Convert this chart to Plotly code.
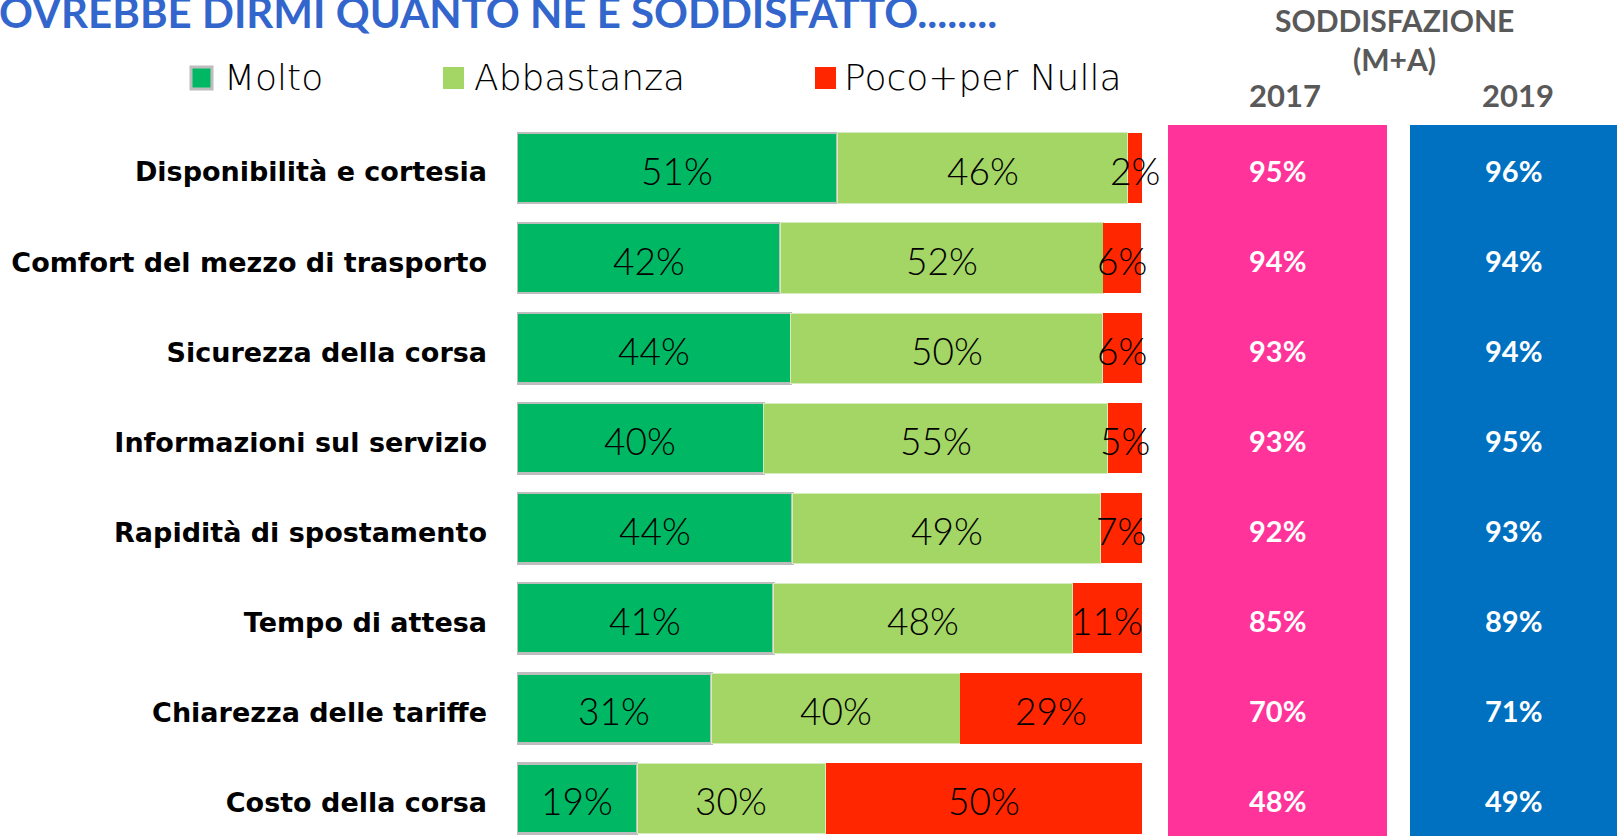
import plotly.graph_objects as go

W, H = 1617, 836

categories = ["Disponibilità e cortesia", "Comfort del mezzo di trasporto", "Sicurezza della corsa",
              "Informazioni sul servizio", "Rapidità di spostamento", "Tempo di attesa",
              "Chiarezza delle tariffe", "Costo della corsa"]
molto = [51.3, 42.1, 43.8, 39.5, 44.1, 41.0, 31.1, 19.2]
abbastanza = [46.4, 51.7, 49.9, 55.0, 49.3, 47.9, 39.8, 30.2]
poco = [2.3, 6.1, 6.3, 5.5, 6.6, 11.1, 29.1, 50.6]
molto_lbl = [51, 42, 44, 40, 44, 41, 31, 19]
abbastanza_lbl = [46, 52, 50, 55, 49, 48, 40, 30]
poco_lbl = [2, 6, 6, 5, 7, 11, 29, 50]
sat_2017 = [95, 94, 93, 93, 92, 85, 70, 48]
sat_2019 = [96, 94, 94, 95, 93, 89, 71, 49]
series_names = ["Molto", "Abbastanza", "Poco+per Nulla"]
years = ["2017", "2019"]

C_MOLTO = "#00B864"
C_ABB = "#A3D665"
C_POCO = "#FF2600"
C_PINK = "#FF3399"
C_BLUE = "#0070C0"

LIGHT = dict(family="Lato", size=37, color="black", weight=300)
VALFONT = dict(family="Lato", size=29, color="white", weight=700)

def px(v):
    return v / W

def py(v):
    return 1 - v / H

fig = go.Figure()
fig.add_trace(go.Bar(y=categories, x=molto, orientation="h", name=series_names[0],
                     marker=dict(color=C_MOLTO, line=dict(color="#BDBDBD", width=2.5)),
                     hoverinfo="skip"))
fig.add_trace(go.Bar(y=categories, x=abbastanza, orientation="h", name=series_names[1],
                     marker=dict(color=C_ABB, line=dict(color="#D6EBBE", width=1)),
                     hoverinfo="skip"))
fig.add_trace(go.Bar(y=categories, x=poco, orientation="h", name=series_names[2],
                     marker=dict(color=C_POCO, line=dict(width=0)),
                     hoverinfo="skip"))

annotations = []

# segment labels at segment midpoints
mid_m = [m / 2 for m in molto]
mid_a = [m + a / 2 for m, a in zip(molto, abbastanza)]
mid_p = [m + a + p / 2 for m, a, p in zip(molto, abbastanza, poco)]
for xs, lbls in [(mid_m, molto_lbl), (mid_a, abbastanza_lbl), (mid_p, poco_lbl)]:
    for xv, cat, v in zip(xs, categories, lbls):
        annotations.append(dict(text=f"{v}%", x=xv, y=cat, xref="x", yref="y",
                                xanchor="center", yanchor="middle", yshift=-2,
                                showarrow=False, font=LIGHT))

# satisfaction columns (own hidden x axes, shared y axis)
for ax, vals in [("x2", sat_2017), ("x3", sat_2019)]:
    fig.add_trace(go.Scatter(x=[0.5] * len(vals), y=categories, xaxis=ax, yaxis="y", mode="markers",
                             marker=dict(opacity=0), showlegend=False, hoverinfo="skip"))
    for cat, v in zip(categories, vals):
        annotations.append(dict(text=f"{v}%", x=0.5, y=cat, xref=ax, yref="y",
                                xanchor="center", yanchor="middle", yshift=-2,
                                showarrow=False, font=VALFONT))

# y range so rows sit at the reference pitch
c_top, c_bot = 168.0, 798.5
span = 7 * H / (c_bot - c_top)
r_top = -c_top * span / H
r_bot = r_top + span

fig.update_layout(
    width=W, height=H, margin=dict(l=0, r=0, t=0, b=0),
    paper_bgcolor="white", plot_bgcolor="white",
    barmode="stack", bargap=0.22, showlegend=False,
    xaxis=dict(domain=[px(517), px(1142)], range=[0, 100], visible=False, fixedrange=True),
    xaxis2=dict(domain=[px(1168), px(1387)], range=[0, 1], visible=False, anchor="y"),
    xaxis3=dict(domain=[px(1410), px(1617)], range=[0, 1], visible=False, anchor="y"),
    yaxis=dict(domain=[0, 1], range=[r_bot, r_top], categoryorder="array", categoryarray=categories,
               showgrid=False, zeroline=False, showline=False, ticks="",
               ticklabelstandoff=29, ticklabelshift=-4,
               tickfont=dict(family="DejaVu Sans", size=27, color="black", weight=700)),
)

shapes = [
    dict(type="rect", xref="paper", yref="paper", x0=px(1168), x1=px(1387), y0=0, y1=py(125),
         fillcolor=C_PINK, line=dict(width=0), layer="below"),
    dict(type="rect", xref="paper", yref="paper", x0=px(1410), x1=1.0, y0=0, y1=py(125),
         fillcolor=C_BLUE, line=dict(width=0), layer="below"),
]

# legend swatches
leg = [(191, C_MOLTO, "#BDBDBD"), (443, C_ABB, None), (815, C_POCO, None)]
leg_text_x = [222, 472, 842]
for (x0, col, border), tx, name in zip(leg, leg_text_x, series_names):
    shapes.append(dict(type="rect", xref="paper", yref="paper", x0=px(x0), x1=px(x0 + 21),
                       y0=py(89), y1=py(67), fillcolor=col,
                       line=dict(width=3 if border else 0, color=border or col)))
    annotations.append(dict(text=name, xref="paper", yref="paper", x=px(tx), y=py(78),
                            xanchor="left", yanchor="middle", showarrow=False,
                            font=dict(family="DejaVu Sans", size=36, color="black", weight=200)))

# title (clipped at top as in reference)
annotations.append(dict(text="OVREBBE DIRMI QUANTO NE E SODDISFATTO........", xref="paper", yref="paper",
                        x=px(-3), y=py(12), xanchor="left", yanchor="middle", showarrow=False,
                        font=dict(family="Lato", size=42, color="#3366CC", weight=700)))

GRAY = "#595959"
annotations.append(dict(text="SODDISFAZIONE", xref="paper", yref="paper", x=px(1394), y=py(20),
                        xanchor="center", yanchor="middle", showarrow=False,
                        font=dict(family="Lato", size=30, color=GRAY, weight=700)))
annotations.append(dict(text="(M+A)", xref="paper", yref="paper", x=px(1394), y=py(59),
                        xanchor="center", yanchor="middle", showarrow=False,
                        font=dict(family="Lato", size=30, color=GRAY, weight=700)))
for yr, cx in zip(years, [1285, 1518]):
    annotations.append(dict(text=yr, xref="paper", yref="paper", x=px(cx), y=py(95),
                            xanchor="center", yanchor="middle", showarrow=False,
                            font=dict(family="Lato", size=31, color=GRAY, weight=700)))

fig.update_layout(shapes=shapes, annotations=annotations)
fig.write_html("out.html", config={"displayModeBar": False},
               post_script="document.body.style.margin='0';document.body.style.overflow='hidden';")
